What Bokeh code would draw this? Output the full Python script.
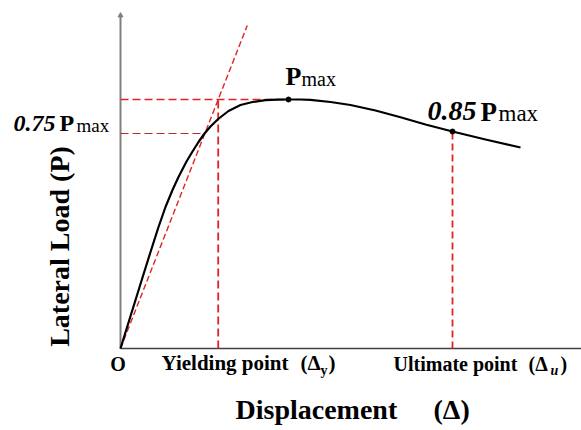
import math
from bokeh.plotting import figure
from bokeh.models import Range1d
from bokeh.core.properties import value
from bokeh.embed import file_html
from bokeh.resources import INLINE

# Idealised lateral load - displacement backbone curve
disp = [0, 6, 13, 21.7, 30, 38, 45, 52, 58, 66, 72, 78, 84, 90, 97.7, 108, 120, 132, 145, 157,
        168, 180, 190, 210, 230, 255, 280, 305, 332, 365, 400]
load = [0, 19.5, 42, 70, 96.5, 121.5, 141.5, 158.5, 171.5, 187, 197, 206.5, 215, 222, 229.5, 237.5,
        243.5, 246.5, 248.3, 248.9, 249, 249, 248.7, 246.5, 243.5, 238, 231.3, 224, 217, 209, 201]

# Characteristic points
peak_disp, peak_load = 168, 249          # P_max
p75_disp, p75_load = 84, 215             # 0.75 P_max on the curve
yield_disp = 97.7                        # Δy
ult_disp, ult_load = 332, 217            # Δu at 0.85 P_max
secant_top = 323                         # where the secant line is stopped

SERIF = value("Liberation Serif")
RED = "#e02424"
DARK_RED = "#b0302c"

p = figure(width=581, height=430, output_backend="svg", toolbar_location=None,
           x_range=Range1d(-120, 461), y_range=Range1d(-82, 348),
           x_axis_location=None, y_axis_location=None, min_border=0,
           title=None)
p.grid.visible = False
p.outline_line_color = None
p.background_fill_color = "white"
p.border_fill_color = "white"

# axes drawn as plain lines
p.line([0, 0], [0, 333], line_color="#808080", line_width=2)
p.scatter([0], [333], marker="triangle", size=5, fill_color="#808080", line_color="#808080")
p.line([0, 461], [0, 0], line_color="#404040", line_width=1.6)

# secant stiffness line through the yield point
slope = peak_load / yield_disp
p.line([0, secant_top / slope], [0, secant_top], line_color=RED, line_width=1.4, line_dash="6 3")

# reference dashed lines
p.line([0, peak_disp], [peak_load, peak_load], line_color=RED, line_width=1.4, line_dash="8 4")
p.line([yield_disp, yield_disp], [0, peak_load], line_color=RED, line_width=1.8, line_dash="8 4")
p.line([0, p75_disp], [p75_load, p75_load], line_color=DARK_RED, line_width=1.1, line_dash="8 4")
p.line([ult_disp, ult_disp], [0, ult_load], line_color=RED, line_width=1.8, line_dash="7 4")

# backbone curve
p.line(disp, load, line_color="black", line_width=2.2, line_join="round")
p.scatter([peak_disp, ult_disp], [peak_load, ult_load], size=5, fill_color="black", line_color="black")


def label(x, y, txt, size, style="bold", align="left", angle=0.0):
    # shift so that (x, y) is the alphabetic baseline of the glyphs
    shift = 0.43 * size
    if angle:
        x -= shift
    else:
        y += shift
    p.text(x=[x], y=[y], text=[txt], text_font=SERIF, text_font_size=f"{size}px",
           text_font_style=style, text_align=align, text_baseline="alphabetic",
           angle=angle, text_color="black")


# 0.75 Pmax
label(-107, 215, "0.75", 24, "bold italic")
label(-61, 215, "P", 24)
label(-44, 215, "max", 19, "normal")

# Pmax
label(165, 261, "P", 26)
label(181, 261, "max", 20, "normal")

# 0.85 Pmax
label(307, 225, "0.85", 28, "bold italic")
label(360, 225, "P", 27)
label(378, 225, "max", 23, "normal")

# x-axis point labels
label(-2.5, -24, "O", 20, align="center")
label(41, -24, "Yielding point", 21)
label(180, -24, "(Δ", 21)
label(200, -28, "y", 14)
label(208, -24, ")", 21)

label(273, -24, "Ultimate point", 20)
label(408, -24, "(Δ", 20)
label(430, -28, "u", 14, "bold italic")
label(440, -24, ")", 20)

# axis titles
label(115, -73, "Displacement", 28)
label(313, -73, "(Δ)", 28)
label(-49, 102, "Lateral Load (P)", 28, align="center", angle=math.pi / 2)

open("out.html", "w").write(file_html(p, INLINE))
